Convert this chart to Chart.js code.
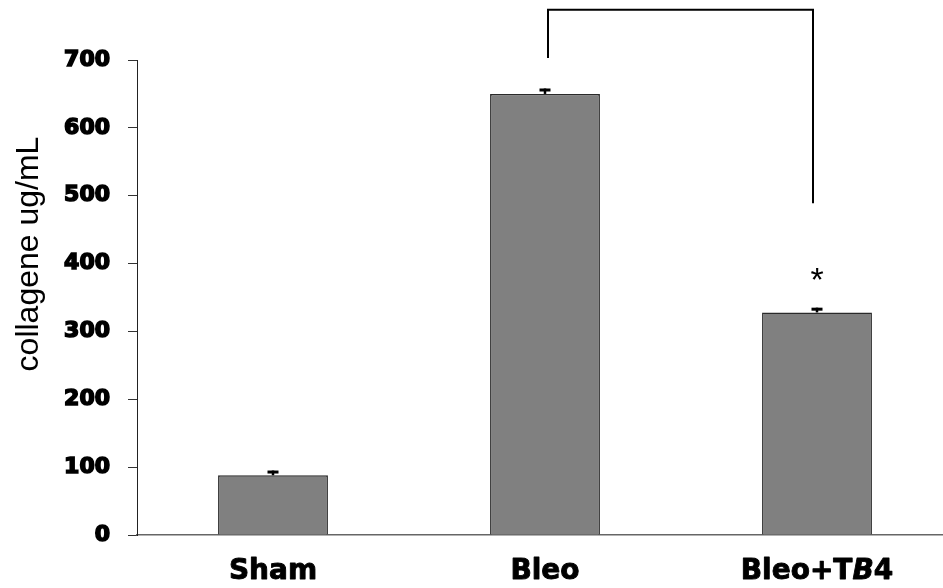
<!DOCTYPE html>
<html>
<head>
<meta charset="utf-8">
<script src="https://cdn.jsdelivr.net/npm/chart.js@4.4.1/dist/chart.umd.min.js"></script>
<style>
  html, body { margin: 0; padding: 0; background: #fff; overflow: hidden; }
  #wrap { width: 960px; height: 588px; }
</style>
</head>
<body>
<div id="wrap"><canvas id="c" width="960" height="588"></canvas></div>
<script>
// Groups and measured collagen (mean, SEM)
const categories = ['Sham', 'Bleo', 'Bleo+TB4'];
// character range of each label set in italics, or null
const italicSpans = [null, null, [6, 7]];
const collagen = [88, 650, 328];
const sem = [7, 8, 7];
const yTicks = [0, 100, 200, 300, 400, 500, 600, 700];
const yTitle = 'collagene ug/mL';

// significance bracket between Bleo and Bleo+TB4 (values on the y scale)
const bracketPair = [1, 2];
const bracketTop = 774;
const bracketEnds = [703, 489];
const starIndex = 2;
const starValue = 360;

const LABEL_FONT = '"DejaVu Sans", Verdana, sans-serif';

const errorBars = {
  id: 'errorBars',
  afterDatasetsDraw(chart) {
    const { ctx, scales: { y } } = chart;
    const meta = chart.getDatasetMeta(0);
    ctx.save();
    ctx.fillStyle = '#000';
    meta.data.forEach((bar, i) => {
      const x = bar.x;
      const yTop = y.getPixelForValue(collagen[i] + sem[i]);
      const yBar = y.getPixelForValue(collagen[i]);
      ctx.fillRect(x - 1.25, yTop, 2.5, yBar - yTop);
      ctx.fillRect(x - 5.5, yTop, 11, 3);
    });
    ctx.restore();
  }
};

const annotations = {
  id: 'annotations',
  afterDraw(chart) {
    const { ctx, scales: { x, y } } = chart;
    ctx.save();

    // bracket
    const x1 = x.getPixelForTick(bracketPair[0]) + 3;
    const x2 = x.getPixelForTick(bracketPair[1]) - 4;
    ctx.strokeStyle = '#000';
    ctx.lineWidth = 2;
    ctx.beginPath();
    ctx.moveTo(x1, y.getPixelForValue(bracketEnds[0]));
    ctx.lineTo(x1, y.getPixelForValue(bracketTop));
    ctx.lineTo(x2, y.getPixelForValue(bracketTop));
    ctx.lineTo(x2, y.getPixelForValue(bracketEnds[1]));
    ctx.stroke();

    // significance star
    ctx.fillStyle = '#000';
    ctx.font = '34px "Liberation Sans", Arial, sans-serif';
    ctx.textAlign = 'center';
    ctx.textBaseline = 'alphabetic';
    ctx.fillText('*', x.getPixelForTick(starIndex), y.getPixelForValue(starValue));

    // category labels (with an italic run where needed)
    const baseY = 579;
    ctx.lineWidth = 0.9;
    ctx.lineJoin = 'round';
    categories.forEach((label, i) => {
      const span = italicSpans[i];
      const runs = span
        ? [[label.slice(0, span[0]), false], [label.slice(span[0], span[1]), true], [label.slice(span[1]), false]]
        : [[label, false]];
      const fontFor = it => (it ? 'italic ' : '') + 'bold 28px ' + LABEL_FONT;
      let total = 0;
      runs.forEach(([t, it]) => { ctx.font = fontFor(it); total += ctx.measureText(t).width; });
      let cx = x.getPixelForTick(i) - total / 2;
      ctx.textAlign = 'left';
      runs.forEach(([t, it]) => {
        ctx.font = fontFor(it);
        ctx.fillText(t, cx, baseY);
        ctx.strokeText(t, cx, baseY);
        cx += ctx.measureText(t).width;
      });
    });

    // y axis title
    ctx.translate(38, 254);
    ctx.rotate(-Math.PI / 2);
    ctx.font = '32px "Liberation Sans", Arial, sans-serif';
    ctx.textAlign = 'center';
    ctx.fillText(yTitle, 0, 0);
    ctx.restore();
  }
};

new Chart(document.getElementById('c'), {
  type: 'bar',
  data: {
    labels: categories,
    datasets: [{
      data: collagen,
      backgroundColor: '#808080',
      borderColor: '#2a2a2a',
      borderWidth: 1.5,
      barPercentage: 0.404,
      categoryPercentage: 1
    }]
  },
  options: {
    responsive: false,
    animation: false,
    devicePixelRatio: 1,
    layout: { padding: { top: 60, right: 7, left: 0, bottom: 0 } },
    plugins: { legend: { display: false }, tooltip: { enabled: false } },
    scales: {
      x: {
        grid: { display: false },
        border: { display: true, color: '#666', width: 1.5 },
        ticks: { display: false },
        afterFit(scale) { scale.height = 53; }
      },
      y: {
        min: 0,
        max: 700,
        afterBuildTicks(scale) { scale.ticks = yTicks.map(v => ({ value: v })); },
        grid: { drawOnChartArea: false, drawTicks: true, tickLength: 9, color: '#333', lineWidth: 1 },
        border: { display: true, color: '#222', width: 1 },
        ticks: {
          padding: 18,
          color: '#000',
          textStrokeColor: '#000',
          textStrokeWidth: 1.6,
          font: { family: LABEL_FONT, weight: 'bold', size: 22 }
        },
        afterFit(scale) { scale.width = 137; }
      }
    }
  },
  plugins: [errorBars, annotations]
});
</script>
</body>
</html>
